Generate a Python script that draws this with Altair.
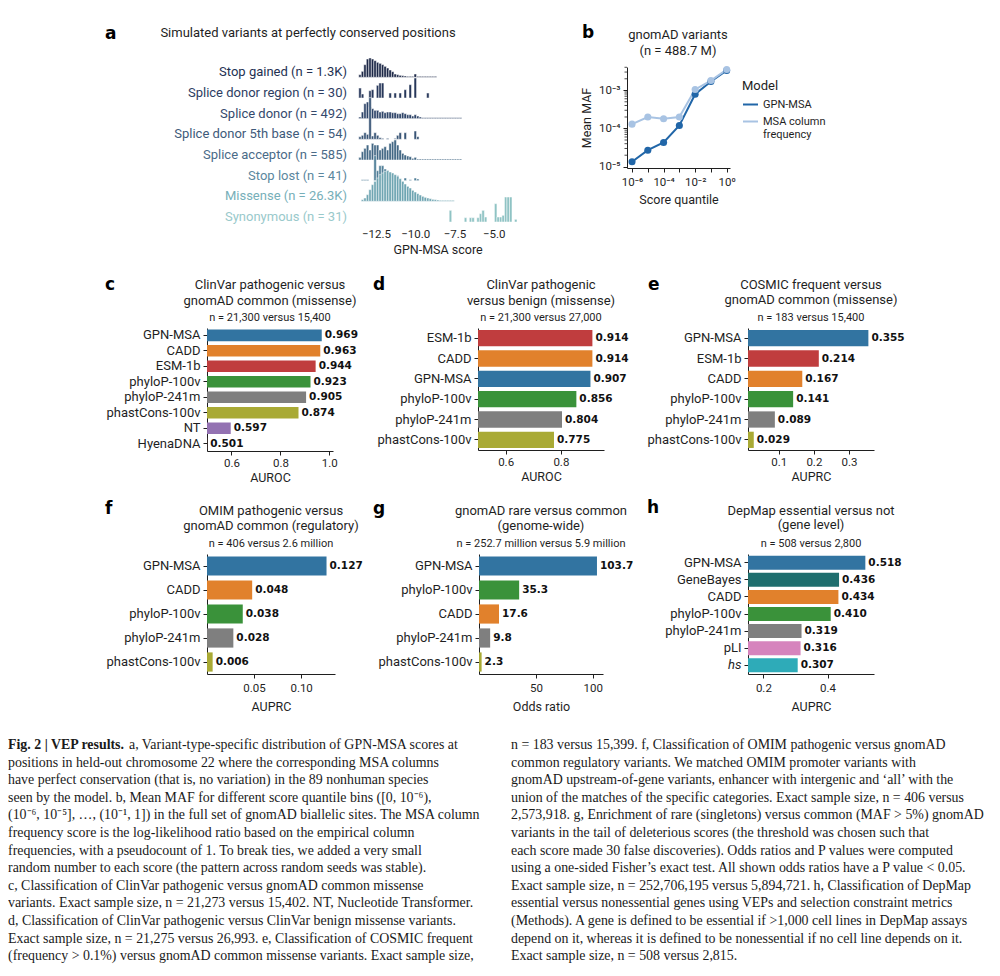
import altair as alt
import pandas as pd

SANS = "Roboto"
HEAVY = "DejaVu Sans"
SERIF = "Liberation Serif"
INK = "#1f1f1f"
ONE = pd.DataFrame({"k": [0]})

# ---------------- panel a data ----------------
a_categories = [
    "Stop gained (n = 1.3K)", "Splice donor region  (n = 30)", "Splice donor (n = 492)",
    "Splice donor 5th base (n = 54)", "Splice acceptor (n = 585)", "Stop lost (n = 41)",
    "Missense (n = 26.3K)", "Synonymous (n = 31)",
]
a_bar_colors = ["#1d2847", "#27375a", "#2f4569", "#395576", "#426784", "#517f98", "#6fa5b2", "#8fc3c4"]
a_text_colors = ["#243152", "#2d3d62", "#34496c", "#3e5a7a", "#4a6b88", "#5b879e", "#77afb9", "#99c9cb"]
A_BIN_START, A_BIN_WIDTH, A_ROW_STEP = -13.6, 0.16, 62

h_stop_gained = [8, 18, 38, 55, 58, 55, 50, 45, 42, 38, 33, 28, 22, 17, 10, 8, 6, 5, 4, 3, 3, 3, 10,
                 3, 3, 3, 3, 3, 3, 3, 3]
h_splice_region = [30, 12, 0, 0, 22, 25, 0, 38, 45, 45, 0, 0, 15, 0, 15, 0, 15, 0, 25, 0, 40, 0, 60,
                   0, 0, 0, 0, 15]
h_splice_donor = [5, 20, 45, 50, 35, 30, 25, 25, 20, 22, 18, 20, 20, 18, 18, 15, 15, 18, 15, 12, 12, 8,
                  12, 8, 5, 3, 3, 3, 3, 3, 3, 3, 3, 3, 3, 3, 3, 3, 3, 3, 3]
h_donor_5th = [8, 12, 20, 15, 125, 10, 20, 12, 5, 3, 0, 3, 0, 0, 3, 12, 20, 0, 20, 0, 0, 0, 25, 8]
h_acceptor = [8, 25, 35, 45, 30, 50, 45, 45, 30, 35, 40, 30, 50, 55, 60, 45, 30, 20, 15, 12, 10, 5, 8,
              3, 3, 3, 3, 3, 3, 3, 3, 3, 3, 3, 3, 3, 3, 3, 3, 3, 3]
h_stop_lost = [0, 3, 3, 3, 0, 0, 75, 30, 45, 45, 35, 30, 25, 20, 12, 15, 0, 0, 8, 0, 3, 0, 8, 5]
h_missense = [0, 5, 10, 20, 35, 50, 60, 70, 80, 85, 90, 92, 88, 85, 80, 75, 68, 60, 52, 45, 40, 33, 28,
              23, 19, 15, 12, 10, 8, 6, 5, 4, 3, 3, 3, 3, 3, 3]
h_synonymous = [0] * 36 + [35, 0, 0, 0, 0, 0, 13, 0, 13, 13, 0, 13, 25, 35, 15, 0, 0, 0, 55, 15, 15, 20,
                           75, 75, 75, 0, 8]
a_hists = [h_stop_gained, h_splice_region, h_splice_donor, h_donor_5th, h_acceptor, h_stop_lost,
           h_missense, h_synonymous]
a_ticks = [-12.5, -10.0, -7.5, -5.0]

# ---------------- panel b data ----------------
b_quantile = [1e-6, 1e-5, 1e-4, 1e-3, 1e-2, 1e-1, 1e0]
b_gpn = [1.35e-5, 2.7e-5, 4.3e-5, 1.2e-4, 7.9e-4, 1.7e-3, 3.3e-3]
b_msa = [1.3e-4, 2.0e-4, 1.8e-4, 2.0e-4, 1.05e-3, 1.8e-3, 3.5e-3]
b_models = ["GPN-MSA", "MSA column frequency"]
b_colors = ["#2166a8", "#a8c3e3"]
b_major = [1e-5, 1e-4, 1e-3]
b_minor = [2e-5, 3e-5, 4e-5, 5e-5, 6e-5, 7e-5, 8e-5, 9e-5,
           2e-4, 3e-4, 4e-4, 5e-4, 6e-4, 7e-4, 8e-4, 9e-4, 2e-3, 3e-3, 4e-3]

# ---------------- bar panels data ----------------
model_names = ["GPN-MSA", "CADD", "ESM-1b", "phyloP-100v", "phyloP-241m", "phastCons-100v", "NT",
               "HyenaDNA", "GeneBayes", "pLI", "hs"]
model_colors = ["#3274a1", "#e1812c", "#c03d3e", "#3a923a", "#7f7f7f", "#a9aa35", "#9372b2",
                "#845b53", "#1f6e6e", "#d684bd", "#2eabb8"]

c_models = ["GPN-MSA", "CADD", "ESM-1b", "phyloP-100v", "phyloP-241m", "phastCons-100v", "NT", "HyenaDNA"]
c_values = [0.969, 0.963, 0.944, 0.923, 0.905, 0.874, 0.597, 0.501]
d_models = ["ESM-1b", "CADD", "GPN-MSA", "phyloP-100v", "phyloP-241m", "phastCons-100v"]
d_values = [0.914, 0.914, 0.907, 0.856, 0.804, 0.775]
e_models = ["GPN-MSA", "ESM-1b", "CADD", "phyloP-100v", "phyloP-241m", "phastCons-100v"]
e_values = [0.355, 0.214, 0.167, 0.141, 0.089, 0.029]
f_models = ["GPN-MSA", "CADD", "phyloP-100v", "phyloP-241m", "phastCons-100v"]
f_values = [0.127, 0.048, 0.038, 0.028, 0.006]
g_models = ["GPN-MSA", "phyloP-100v", "CADD", "phyloP-241m", "phastCons-100v"]
g_values = [103.7, 35.3, 17.6, 9.8, 2.3]
h_models = ["GPN-MSA", "GeneBayes", "CADD", "phyloP-100v", "phyloP-241m", "pLI", "hs"]
h_values = [0.518, 0.436, 0.434, 0.410, 0.319, 0.316, 0.307]

# ---------------- caption ----------------
cap_bold = "Fig. 2 | VEP results."
cap_first_rest = "a, Variant-type-specific distribution of GPN-MSA scores at"
caption_left = [
    "positions in held-out chromosome 22 where the corresponding MSA columns",
    "have perfect conservation (that is, no variation) in the 89 nonhuman species",
    "seen by the model. b, Mean MAF for different score quantile bins ([0, 10\u207b\u2076),",
    "(10\u207b\u2076, 10\u207b\u2075], \u2026, (10\u207b\u00b9, 1]) in the full set of gnomAD biallelic sites. The MSA column",
    "frequency score is the log-likelihood ratio based on the empirical column",
    "frequencies, with a pseudocount of 1. To break ties, we added a very small",
    "random number to each score (the pattern across random seeds was stable).",
    "c, Classification of ClinVar pathogenic versus gnomAD common missense",
    "variants. Exact sample size, n = 21,273 versus 15,402. NT, Nucleotide Transformer.",
    "d, Classification of ClinVar pathogenic versus ClinVar benign missense variants.",
    "Exact sample size, n = 21,275 versus 26,993. e, Classification of COSMIC frequent",
    "(frequency > 0.1%) versus gnomAD common missense variants. Exact sample size,",
]
caption_right = [
    "n = 183 versus 15,399. f, Classification of OMIM pathogenic versus gnomAD",
    "common regulatory variants. We matched OMIM promoter variants with",
    "gnomAD upstream-of-gene variants, enhancer with intergenic and \u2018all\u2019 with the",
    "union of the matches of the specific categories. Exact sample size, n = 406 versus",
    "2,573,918. g, Enrichment of rare (singletons) versus common (MAF > 5%) gnomAD",
    "variants in the tail of deleterious scores (the threshold was chosen such that",
    "each score made 30 false discoveries). Odds ratios and P values were computed",
    "using a one-sided Fisher\u2019s exact test. All shown odds ratios have a P value < 0.05.",
    "Exact sample size, n = 252,706,195 versus 5,894,721. h, Classification of DepMap",
    "essential versus nonessential genes using VEPs and selection constraint metrics",
    "(Methods). A gene is defined to be essential if >1,000 cell lines in DepMap assays",
    "depend on it, whereas it is defined to be nonessential if no cell line depends on it.",
    "Exact sample size, n = 508 versus 2,815.",
]


# ---------------- helpers ----------------
def frame(x0, x1, y0, y1):
    """Invisible box that fixes the extent each panel occupies in the grid layout."""
    return alt.Chart(ONE).mark_rect(opacity=0).encode(
        x=alt.value(x0), x2=alt.value(x1), y=alt.value(y0), y2=alt.value(y1))


def spacer():
    return frame(0, 1, 0, 1).properties(width=1, height=1)


def note(text, x, y, size=13, weight="normal", align="center", font=SANS, color=INK):
    return alt.Chart(ONE).mark_text(text=text, fontSize=size, fontWeight=weight, align=align,
                                    baseline="middle", font=font, color=color).encode(
        x=alt.value(x), y=alt.value(y))


def letter(ch, x, y):
    return note(ch, x, y, size=17, weight="bold", align="left", font=HEAVY, color="#000")


# ---------------- panel a ----------------
recs = []
for r, (cat, hs) in enumerate(zip(a_categories, a_hists)):
    for i, h in enumerate(hs):
        if h > 0:
            lo = A_BIN_START + i * A_BIN_WIDTH
            recs.append({"cat": cat, "lo": lo, "hi": lo + A_BIN_WIDTH,
                         "base": -A_ROW_STEP * r, "top": -A_ROW_STEP * r + h})
a_df = pd.DataFrame(recs)
a_lab = pd.DataFrame({"cat": a_categories, "base": [-A_ROW_STEP * r for r in range(len(a_categories))]})

ax_a = alt.X("lo:Q", scale=alt.Scale(domain=[-13.84, -3.33], nice=False, zero=False),
             axis=alt.Axis(values=a_ticks, format=".1f", title="GPN-MSA score", domain=False,
                           ticks=False, labelPadding=4, titlePadding=4))
ys_a = alt.Scale(domain=[-440, 31], nice=False, zero=False)

a_bars = alt.Chart(a_df).mark_bar(stroke="white", strokeWidth=0.5).encode(
    x=ax_a, x2="hi:Q", y=alt.Y("base:Q", scale=ys_a, axis=None), y2="top:Q",
    color=alt.Color("cat:N", scale=alt.Scale(domain=a_categories, range=a_bar_colors), legend=None))
a_labels = alt.Chart(a_lab).mark_text(align="right", baseline="middle", dy=-5, fontSize=13, font=SANS).encode(
    x=alt.value(-8), y=alt.Y("base:Q", scale=ys_a, axis=None), text="cat:N",
    color=alt.Color("cat:N", scale=alt.Scale(domain=a_categories, range=a_text_colors), legend=None))

panel_a = alt.layer(
    frame(-346, 205, -59, 199), a_bars, a_labels, letter("a", -250, -33),
    note("Simulated variants at perfectly conserved positions", -47, -34),
).resolve_scale(color="independent").properties(width=165, height=157)

# ---------------- panel b ----------------
b_df = pd.DataFrame({"model": [b_models[0]] * 7 + [b_models[1]] * 7,
                     "q": b_quantile * 2, "maf": b_gpn + b_msa})
XEXP = ("datum.value < 2e-6 ? '10\u207b\u2076' : (datum.value > 5e-5 && datum.value < 2e-4) ? '10\u207b\u2074' : "
        "(datum.value > 5e-3 && datum.value < 2e-2) ? '10\u207b\u00b2' : datum.value > 0.5 ? '10\u2070' : ''")
YEXP = "datum.value < 2e-5 ? '10\u207b\u2075' : datum.value < 2e-4 ? '10\u207b\u2074' : '10\u207b\u00b3'"
yb_scale = alt.Scale(type="log", domain=[9.25e-6, 4.07e-3], nice=False)
yb_axis = alt.Axis(values=b_major, labelExpr=YEXP, title="Mean MAF", tickSize=4, labelPadding=3, titlePadding=5)
xb = alt.X("q:Q", scale=alt.Scale(type="log", domain=[4.8e-7, 1.62], nice=False),
           axis=alt.Axis(values=b_quantile, labelExpr=XEXP, title="Score quantile", tickSize=4,
                         labelPadding=4, titlePadding=6))
yb = alt.Y("maf:Q", scale=yb_scale, axis=yb_axis)
b_leg = alt.Legend(title="Model", orient="none", legendX=115, legendY=13, symbolType="stroke",
                   symbolStrokeWidth=2, symbolSize=225, labelFontSize=11, titleFontSize=13,
                   titleFontWeight="normal", rowPadding=3, titlePadding=3,
                   labelExpr="datum.label == 'MSA column frequency' ? ['MSA column', 'frequency'] : datum.label")
bcol = alt.Color("model:N", scale=alt.Scale(domain=b_models, range=b_colors), legend=b_leg)
b_lines = alt.Chart(b_df).mark_line(strokeWidth=2).encode(x=xb, y=yb, color=bcol)
b_pts = alt.Chart(b_df).mark_circle(size=50, opacity=1).encode(x=xb, y=yb, color=bcol)
b_minor_ticks = alt.Chart(pd.DataFrame({"v": b_minor})).mark_rule(color=INK, strokeWidth=0.8).encode(
    y=alt.Y("v:Q", scale=yb_scale, axis=yb_axis), x=alt.value(-2.5), x2=alt.value(0))
panel_b = alt.layer(
    frame(-67, 365, -59, 199), b_lines, b_pts, b_minor_ticks, letter("b", -45, -34),
    note("gnomAD variants", 51, -32), note("(n = 488.7 M)", 51, -16),
).properties(width=103, height=101)


# ---------------- bar panels ----------------
def bar_panel(models, values, domain, ticks, tick_fmt, val_fmt, xtitle, width, height, pad_inner,
              box, ltr, lxy, titles, tys, label_pad, title_pad, italic_label=None):
    df = pd.DataFrame({"model": models, "value": values})
    ykw = dict(title=None, tickSize=4, labelPadding=3)
    if italic_label:
        ykw["labelFontStyle"] = {"condition": {"test": f"datum.value === '{italic_label}'", "value": "italic"},
                                 "value": "normal"}
    y = alt.Y("model:N", sort=models, scale=alt.Scale(paddingInner=pad_inner, paddingOuter=0.1),
              axis=alt.Axis(**ykw))
    x = alt.X("value:Q", scale=alt.Scale(domain=domain, nice=False, zero=False),
              axis=alt.Axis(values=ticks, format=tick_fmt, title=xtitle, tickSize=4, labelPadding=label_pad,
                            titlePadding=title_pad))
    bars = alt.Chart(df).mark_bar(clip=True).encode(
        x=x, y=y, color=alt.Color("model:N", scale=alt.Scale(domain=model_names, range=model_colors), legend=None))
    vals = alt.Chart(df).mark_text(align="left", baseline="middle", dx=3, font=HEAVY, fontWeight="bold",
                                   fontSize=10.5, color="#111").encode(
        x=x, y=y, text=alt.Text("value:Q", format=val_fmt))
    cx = width / 2
    notes = [note(titles[0], cx, tys[0]), note(titles[1], cx, tys[1]), note(titles[2], cx, tys[2], size=11)]
    return alt.layer(frame(*box), bars, vals, letter(ltr, *lxy), *notes).properties(width=width, height=height)


panel_c = bar_panel(c_models, c_values, [0.5, 1.015], [0.6, 0.8, 1.0], ".1f", ".3f", "AUROC", 126, 123, 0.25,
                    (-198, 155, -62, 162), "c", (-102, -43),
                    ["ClinVar pathogenic versus", "gnomAD common (missense)", "n = 21,300 versus 15,400"],
                    (-43, -27.3, -10.3), 2, 3)
panel_d = bar_panel(d_models, d_values, [0.5, 0.956], [0.6, 0.8], ".1f", ".3f", "AUROC", 126, 122, 0.2,
                    (-116, 160, -62, 162), "d", (-105, -43),
                    ["ClinVar pathogenic", "versus benign (missense)", "n = 21,300 versus 27,000"],
                    (-43, -27.3, -10.3), 2, 3)
panel_e = bar_panel(e_models, e_values, [0.0126, 0.371], [0.1, 0.2, 0.3], ".1f", ".3f", "AUPRC", 126, 122, 0.2,
                    (-110, 244, -62, 162), "e", (-100, -43),
                    ["COSMIC frequent versus", "gnomAD common (missense)", "n = 183 versus 15,400"],
                    (-43, -28, -10.3), 2, 3)
panel_f = bar_panel(f_models, f_values, [0, 0.136], [0.05, 0.10], ".2f", ".3f", "AUPRC", 128, 120, 0.2,
                    (-198, 158, -64, 174), "f", (-102, -45),
                    ["OMIM pathogenic versus", "gnomAD common (regulatory)", "n = 406 versus 2.6 million"],
                    (-43.3, -28, -10), 4.5, 6)
panel_g = bar_panel(g_models, g_values, [0, 109], [50, 100], "d", ".1f", "Odds ratio", 124, 120, 0.2,
                    (-114, 159, -64, 174), "g", (-106, -45),
                    ["gnomAD rare versus common", "(genome-wide)", "n = 252.7 million versus 5.9 million"],
                    (-43.3, -28, -10), 4.5, 6)
panel_h = bar_panel(h_models, h_values, [0.152, 0.545], [0.2, 0.4], ".1f", ".3f", "AUPRC", 126, 120, 0.18,
                    (-110, 244, -64, 174), "h", (-101, -46),
                    ["DepMap essential versus not", "(gene level)", "n = 508 versus 2,800"],
                    (-43.3, -29, -10), 4.5, 6, italic_label="hs")

# ---------------- caption ----------------
cap_df = pd.DataFrame({
    "col": [0] * len(caption_left) + [1] * len(caption_right),
    "line": list(range(1, len(caption_left) + 1)) + list(range(len(caption_right))),
    "text": caption_left + caption_right,
})
capx = alt.X("col:Q", scale=alt.Scale(domain=[0, 1], range=[0, 503]), axis=None)
capy = alt.Y("line:Q", scale=alt.Scale(domain=[0, 12], range=[0, 211.2]), axis=None)
CAP = dict(align="left", baseline="middle", font=SERIF, fontSize=13.9, color="#1a1a1a")
cap_main = alt.Chart(cap_df).mark_text(**CAP).encode(x=capx, y=capy, text="text:N")
cap_b = alt.Chart(pd.DataFrame({"col": [0], "line": [0], "text": [cap_bold]})).mark_text(
    fontWeight="bold", **CAP).encode(x=capx, y=capy, text="text:N")
cap_r = alt.Chart(pd.DataFrame({"col": [0], "line": [0], "text": [cap_first_rest]})).mark_text(
    dx=121, **CAP).encode(x=capx, y=capy, text="text:N")
caption = alt.layer(frame(0, 984, -17, 216), cap_main, cap_b, cap_r).properties(width=984, height=212)

# ---------------- assemble ----------------
row1 = alt.hconcat(spacer(), panel_a, panel_b, spacing=0).resolve_scale(color="independent")
row2 = alt.hconcat(spacer(), panel_c, panel_d, panel_e, spacing=0).resolve_scale(color="independent")
row3 = alt.hconcat(spacer(), panel_f, panel_g, panel_h, spacing=0).resolve_scale(color="independent")

chart = alt.vconcat(row1, row2, row3, caption, spacing=0).resolve_scale(color="independent").properties(
    padding=0
).configure_view(stroke=None).configure_axis(
    labelFont=SANS, titleFont=SANS, labelColor=INK, titleColor=INK, domainColor=INK, tickColor=INK,
    titleFontWeight="normal", grid=False, labelFontSize=11.5, titleFontSize=12.5
).configure_axisBand(labelFontSize=13).configure_legend(
    labelFont=SANS, titleFont=SANS, labelColor=INK, titleColor=INK)

chart.save("out.html", embed_options={"renderer": "svg", "actions": False})
